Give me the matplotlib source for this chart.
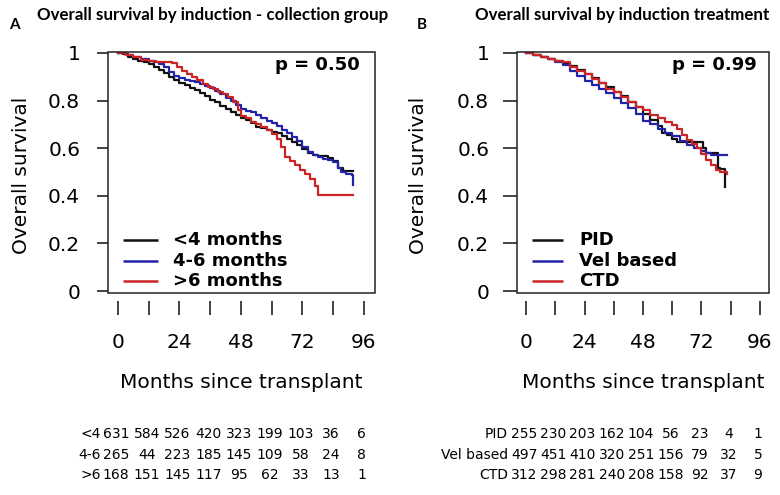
import matplotlib
matplotlib.use('Agg')
import matplotlib.pyplot as plt
from matplotlib.transforms import blended_transform_factory
from matplotlib.patches import Rectangle

# ---------------- data ----------------
# Panel A: overall survival by induction - collection group
a_lt4_t = [0, 2, 4, 6, 8, 10, 12, 14, 16, 18, 20, 22, 24, 26, 28, 30, 32, 34, 36, 38, 40, 42, 44, 46, 48,
           50, 52, 54, 56, 58, 60, 62, 64, 66, 68, 70, 72, 74, 76, 78, 80, 82, 84, 86, 88, 91.8]
a_lt4_s = [1.0, 0.995, 0.985, 0.975, 0.968, 0.962, 0.952, 0.94, 0.93, 0.915, 0.9, 0.885, 0.875, 0.865, 0.852,
           0.843, 0.832, 0.818, 0.804, 0.792, 0.778, 0.764, 0.752, 0.74, 0.728, 0.718, 0.705, 0.69, 0.683,
           0.676, 0.67, 0.662, 0.652, 0.64, 0.628, 0.612, 0.596, 0.578, 0.572, 0.568, 0.566, 0.56, 0.545,
           0.515, 0.505, 0.505]

a_46_t = [0, 3, 6, 9, 12, 14, 16, 18, 20, 22, 24, 26, 28, 30, 32, 34, 36, 38, 40, 42, 44, 46, 48, 50, 52,
          54, 56, 58, 60, 62, 64, 66, 68, 70, 72, 74, 76, 78, 80, 82, 84, 86, 87, 89, 91.5, 91.8]
a_46_s = [1.0, 0.992, 0.982, 0.975, 0.968, 0.962, 0.955, 0.94, 0.92, 0.905, 0.895, 0.888, 0.882, 0.878,
          0.868, 0.86, 0.852, 0.84, 0.828, 0.812, 0.798, 0.78, 0.765, 0.758, 0.752, 0.74, 0.728, 0.716,
          0.705, 0.693, 0.678, 0.662, 0.648, 0.63, 0.605, 0.585, 0.572, 0.562, 0.556, 0.55, 0.542, 0.515,
          0.5, 0.49, 0.487, 0.445]

a_gt6_t = [0, 3, 6, 9, 12, 15, 18, 21, 23, 25, 27, 29, 31, 33, 35, 37, 39, 41, 43, 45, 47, 48, 50, 52, 54,
           56, 58, 60, 62, 63.5, 65, 67, 69, 71, 73, 75, 77, 78.2, 91.8]
a_gt6_s = [1.0, 0.99, 0.982, 0.972, 0.965, 0.962, 0.96, 0.958, 0.94, 0.925, 0.91, 0.897, 0.885, 0.868,
           0.858, 0.848, 0.838, 0.826, 0.815, 0.795, 0.76, 0.735, 0.725, 0.712, 0.702, 0.69, 0.676, 0.66,
           0.638, 0.605, 0.565, 0.548, 0.53, 0.508, 0.49, 0.47, 0.44, 0.403, 0.403]

# Panel B: overall survival by induction treatment
b_pid_t = [0, 3, 6, 9, 12, 15, 18, 21, 24, 27, 30, 33, 36, 39, 42, 45, 48, 51, 54, 56, 58, 60, 62, 72.7,
           74, 78.9, 79.6, 81.6, 81.8]
b_pid_s = [1.0, 0.99, 0.983, 0.975, 0.966, 0.958, 0.945, 0.928, 0.912, 0.893, 0.872, 0.855, 0.836, 0.818,
           0.795, 0.772, 0.742, 0.72, 0.695, 0.665, 0.655, 0.64, 0.627, 0.6, 0.578, 0.515, 0.511, 0.511,
           0.436]

b_vel_t = [0, 3, 6, 9, 12, 15, 18, 21, 24, 27, 30, 33, 36, 39, 42, 45, 48, 51, 54, 57, 60, 63, 66, 69, 72,
           74, 76, 82.3]
b_vel_s = [1.0, 0.99, 0.982, 0.973, 0.962, 0.948, 0.925, 0.902, 0.882, 0.865, 0.85, 0.83, 0.81, 0.788,
           0.77, 0.745, 0.715, 0.7, 0.682, 0.665, 0.65, 0.632, 0.615, 0.6, 0.59, 0.578, 0.572, 0.571]

b_ctd_t = [0, 3, 6, 9, 12, 15, 18, 21, 24, 27, 30, 33, 36, 39, 42, 45, 48, 51, 54, 57, 60, 62, 64, 66, 68,
           70, 72, 74, 76, 78, 79.6, 82.3]
b_ctd_s = [1.0, 0.992, 0.984, 0.975, 0.967, 0.96, 0.942, 0.925, 0.91, 0.89, 0.872, 0.85, 0.835, 0.815,
           0.795, 0.775, 0.76, 0.74, 0.725, 0.712, 0.698, 0.68, 0.655, 0.635, 0.618, 0.6, 0.575, 0.55,
           0.53, 0.51, 0.5, 0.49]

x_ticks = [0, 12, 24, 36, 48, 60, 72, 84, 96]
x_ticklabels = ['0', '', '24', '', '48', '', '72', '', '96']
y_ticks = [0, 0.2, 0.4, 0.6, 0.8, 1.0]
y_ticklabels = ['0', '0.2', '0.4', '0.6', '0.8', '1']

risk_times = [0, 12, 24, 36, 48, 60, 72, 84, 96]
risk_a_labels = ['<4', '4-6', '>6']
risk_a = [[631, 584, 526, 420, 323, 199, 103, 36, 6],
          [265, 44, 223, 185, 145, 109, 58, 24, 8],
          [168, 151, 145, 117, 95, 62, 33, 13, 1]]
risk_b_labels = ['PID', 'Vel based', 'CTD']
risk_b = [[255, 230, 203, 162, 104, 56, 23, 4, 1],
          [497, 451, 410, 320, 251, 156, 79, 32, 5],
          [312, 298, 281, 240, 208, 158, 92, 37, 9]]

legend_a = ['<4 months', '4-6 months', '>6 months']
legend_b = ['PID', 'Vel based', 'CTD']
p_a = 'p = 0.50'
p_b = 'p = 0.99'
title_a = 'Overall survival by induction - collection group'
title_b = 'Overall survival by induction treatment'

colors = ['#111111', '#2323a8', '#cc2424']

# ---------------- figure ----------------
W, H = 780, 495
fig = plt.figure(figsize=(W / 100, H / 100), dpi=100)
plt.rcParams['font.family'] = ['DejaVu Sans']


def fx(px):
    return px / W


def fy(py):
    return 1 - py / H


def setup(ax, xlim, ytick_len, ytick_pad):
    ax.set_xlim(*xlim)
    ax.set_ylim(-0.008, 1.004)
    for sp in ax.spines.values():
        sp.set_color('none')
    ax.spines['bottom'].set_position(('outward', 6))
    ax.add_patch(Rectangle((0, 0), 1, 1, transform=ax.transAxes, fill=False,
                           lw=1.1, edgecolor='#222222', clip_on=False, zorder=5))
    ax.set_xticks(x_ticks)
    ax.set_xticklabels(x_ticklabels)
    ax.set_yticks(y_ticks)
    ax.set_yticklabels(y_ticklabels)
    ax.tick_params(axis='x', length=10, width=1.2, pad=12.5, labelsize=14.5, color='#222222')
    ax.tick_params(axis='y', length=ytick_len, width=1.2, pad=ytick_pad, labelsize=14.5, color='#222222')


def legend(ax, labels, x0, x1, xt):
    ys = [(293 - 240) / 241, (293 - 261) / 241, (293 - 281) / 241]
    for lab, c, y in zip(labels, colors, ys):
        ax.plot([x0, x1], [y, y], color=c, lw=1.8, transform=ax.transAxes, solid_capstyle='butt')
        ax.text(xt, y, lab, transform=ax.transAxes, fontsize=13, fontweight='bold',
                va='center', ha='left')


def risk(ax, labels, table, label_x):
    tr = blended_transform_factory(ax.transData, fig.transFigure)
    for lab, row, py in zip(labels, table, [434, 455, 475]):
        fig.text(fx(label_x), fy(py), lab, ha='right', va='center', fontsize=10)
        for t, n in zip(risk_times, row):
            ax.text(t - 0.8, fy(py), str(n), transform=tr, ha='center', va='center', fontsize=10)


# Panel A
axA = fig.add_axes([fx(108), fy(293), fx(267), 241 / H])
setup(axA, (-3.9, 100.3), 8, 12)
axA.step(a_lt4_t, a_lt4_s, where='post', color=colors[0], lw=1.6)
axA.step(a_46_t, a_46_s, where='post', color=colors[1], lw=1.6)
axA.step(a_gt6_t, a_gt6_s, where='post', color=colors[2], lw=1.6)
legend(axA, legend_a, 0.056, 0.187, 0.243)
axA.text(0.944, 0.946, p_a, transform=axA.transAxes, ha='right', va='center',
         fontsize=13, fontweight='bold')
risk(axA, risk_a_labels, risk_a, 101)
fig.text(fx(22), fy(175), 'Overall survival', rotation=90, ha='center', va='center', fontsize=14.5)
fig.text(fx(241), fy(383), 'Months since transplant', ha='center', va='center', fontsize=14.5)
fig.text(fx(14), fy(25), 'A', ha='center', va='center', fontsize=11, fontweight='bold',
         family=['Lato', 'DejaVu Sans'])
fig.text(fx(37), fy(15), title_a, ha='left', va='center', fontsize=12.2, fontweight='bold',
         family=['Lato', 'DejaVu Sans'])

# Panel B
axB = fig.add_axes([fx(517), fy(293), fx(252), 241 / H])
setup(axB, (-3.7, 99.7), 10, 10)
axB.step(b_pid_t, b_pid_s, where='post', color=colors[0], lw=1.6)
axB.step(b_vel_t, b_vel_s, where='post', color=colors[1], lw=1.6)
axB.step(b_ctd_t, b_ctd_s, where='post', color=colors[2], lw=1.6)
legend(axB, legend_b, 0.058, 0.184, 0.247)
axB.text(0.952, 0.946, p_b, transform=axB.transAxes, ha='right', va='center',
         fontsize=13, fontweight='bold')
risk(axB, risk_b_labels, risk_b, 508)
fig.text(fx(418), fy(175), 'Overall survival', rotation=90, ha='center', va='center', fontsize=14.5)
fig.text(fx(643), fy(383), 'Months since transplant', ha='center', va='center', fontsize=14.5)
fig.text(fx(422), fy(25), 'B', ha='center', va='center', fontsize=11, fontweight='bold',
         family=['Lato', 'DejaVu Sans'])
fig.text(fx(475), fy(15), title_b, ha='left', va='center', fontsize=12.2, fontweight='bold',
         family=['Lato', 'DejaVu Sans'])

fig.savefig('out.png', dpi=100, facecolor='white')
